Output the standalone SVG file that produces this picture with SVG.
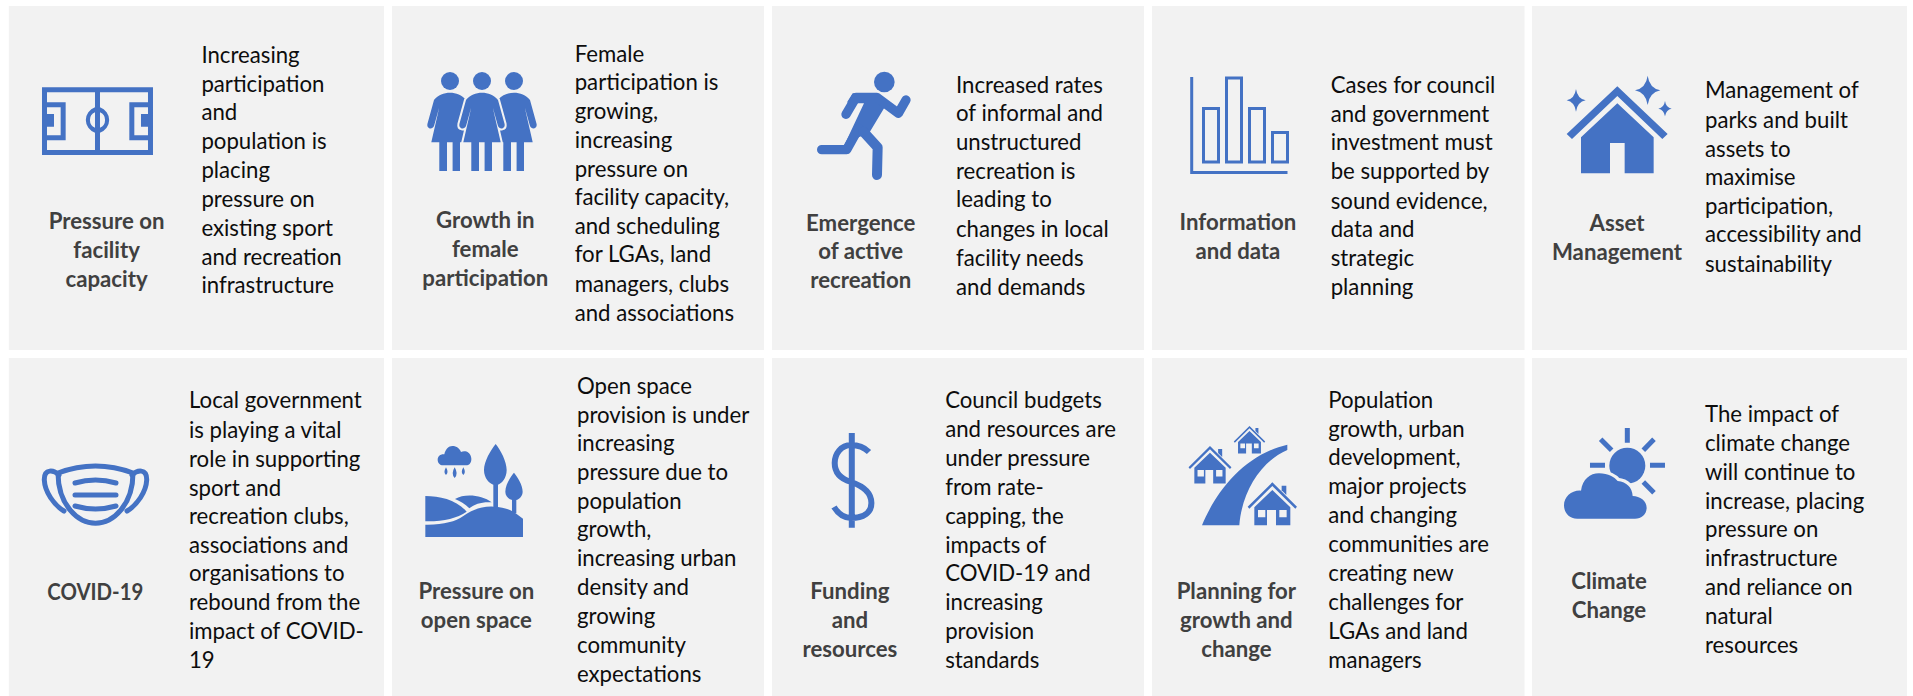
<svg xmlns="http://www.w3.org/2000/svg" width="1913" height="696" viewBox="0 0 1913 696">
<style>
.p{fill:#f2f2f2}
.b{font:22.2px Lato,"Liberation Sans",sans-serif;fill:#0d0d0d}
.l{font:bold 22.2px Lato,"Liberation Sans",sans-serif;fill:#404040;text-anchor:middle}
.i{fill:#4472c4}
.s{fill:none;stroke:#4472c4}
</style>
<defs>
<path id="woman" class="i" d="M-16,100C-12,95 -6,92.7 0,92.7C6,92.7 12,95 16,100L22.6,124C23.5,129 17.5,130 16,126L10.7,107.3L18.7,142.3H10V171H2.6V142.3H-3V171H-10.7V142.3H-18.7L-10.7,107.3L-16,126C-17.5,130 -23.5,129 -22.6,124Z"/>
<g id="home" class="i">
<path d="M0,0L74,73L69,79L0,11L-69,79L-74,73Z"/>
<path d="M28,10H42V38L28,24Z"/>
<path fill-rule="evenodd" d="M0,23L54,75V129H11V83H-16V129H-54V75ZM-43,83V105H-21V83ZM21,83V105H43V83Z"/>
</g>
</defs>
<rect width="1913" height="696" fill="#fff"/>

<g id="node-1">
<rect class="p" x="8.800" y="6" width="375.200" height="344"/>
<g transform="translate(20,60) scale(.3333)" class="i">
<path fill-rule="evenodd" d="M66,82H399V285H66ZM81,97V127H137V241H81V270H225V218A40,40 0 0 1 225,142V97ZM240,97V142A40,40 0 0 1 240,218V270H384V241H328V127H384V97ZM81,142V162H102V200H81V226H122V142ZM343,142V226H384V200H363V162H384V142ZM225,157A25,25 0 0 0 225,203ZM240,157V203A25,25 0 0 0 240,157Z"/>
</g>
<text class="l"><tspan x="106.600" y="229">Pressure on</tspan><tspan x="106.600" y="258">facility</tspan><tspan x="106.600" y="287">capacity</tspan></text>
<text class="b"><tspan x="201.400" y="63">Increasing</tspan><tspan x="201.400" y="92">participation</tspan><tspan x="201.400" y="120">and</tspan><tspan x="201.400" y="149">population is</tspan><tspan x="201.400" y="178">placing</tspan><tspan x="201.400" y="207">pressure on</tspan><tspan x="201.400" y="236">existing sport</tspan><tspan x="201.400" y="265">and recreation</tspan><tspan x="201.400" y="293">infrastructure</tspan></text>
</g>

<g id="node-2">
<rect class="p" x="392" y="6" width="372" height="344"/>
<circle class="i" cx="450" cy="81" r="9"/><circle class="i" cx="482" cy="81" r="9"/><circle class="i" cx="514" cy="81" r="9"/>
<use href="#woman" x="450"/><use href="#woman" x="514"/>
<use href="#woman" x="482" stroke="#f2f2f2" stroke-width="4" paint-order="stroke"/>
<text class="l"><tspan x="485.300" y="228">Growth in</tspan><tspan x="485.300" y="257">female</tspan><tspan x="485.300" y="286">participation</tspan></text>
<text class="b"><tspan x="574.700" y="62">Female</tspan><tspan x="574.700" y="90">participation is</tspan><tspan x="574.700" y="119">growing,</tspan><tspan x="574.700" y="148">increasing</tspan><tspan x="574.700" y="177">pressure on</tspan><tspan x="574.700" y="205">facility capacity,</tspan><tspan x="574.700" y="234">and scheduling</tspan><tspan x="574.700" y="262">for LGAs, land</tspan><tspan x="574.700" y="292">managers, clubs</tspan><tspan x="574.700" y="321">and associations</tspan></text>
</g>

<g id="node-3">
<rect class="p" x="772" y="6" width="372" height="344"/>
<g transform="translate(800,60) scale(.3333)">
<circle class="i" cx="253" cy="66" r="31"/>
<path class="i" d="M158,100H232L258,135L208,218L176,232L130,262L192,130H170L150,150L142,125Z"/>
<path class="s" stroke-width="28" stroke-linecap="round" stroke-linejoin="round" d="M138,163L168,112H230L295,160L318,120"/>
<path class="s" stroke-width="28" stroke-linecap="round" stroke-linejoin="round" d="M65,269H140L176,205"/>
<path class="s" stroke-width="30" stroke-linecap="round" stroke-linejoin="round" d="M190,215L233,262L231,345"/>
</g>
<text class="l"><tspan x="860.700" y="231">Emergence</tspan><tspan x="860.700" y="259">of active</tspan><tspan x="860.700" y="288">recreation</tspan></text>
<text class="b"><tspan x="956" y="93">Increased rates</tspan><tspan x="956" y="121">of informal and</tspan><tspan x="956" y="150">unstructured</tspan><tspan x="956" y="179">recreation is</tspan><tspan x="956" y="207">leading to</tspan><tspan x="956" y="237">changes in local</tspan><tspan x="956" y="266">facility needs</tspan><tspan x="956" y="295">and demands</tspan></text>
</g>

<g id="node-4">
<rect class="p" x="1152" y="6" width="372.500" height="344"/>
<path class="s" stroke-width="3" d="M1191.700,77V172.500H1287.500"/>
<g class="s" stroke-width="3"><rect x="1203.500" y="108.500" width="15" height="53.500"/><rect x="1226.500" y="78" width="15" height="84"/><rect x="1249.500" y="108.500" width="15" height="53.500"/><rect x="1272.500" y="132.500" width="15" height="29.500"/></g>
<text class="l"><tspan x="1237.900" y="230">Information</tspan><tspan x="1237.900" y="259">and data</tspan></text>
<text class="b"><tspan x="1330.700" y="93">Cases for council</tspan><tspan x="1330.700" y="122">and government</tspan><tspan x="1330.700" y="150">investment must</tspan><tspan x="1330.700" y="179">be supported by</tspan><tspan x="1330.700" y="209">sound evidence,</tspan><tspan x="1330.700" y="237">data and</tspan><tspan x="1330.700" y="266">strategic</tspan><tspan x="1330.700" y="295">planning</tspan></text>
</g>

<g id="node-5">
<rect class="p" x="1532" y="6" width="375" height="344"/>
<g transform="translate(1550,60) scale(.3333)" class="i">
<path d="M202,79L353,222L337,237L202,108L66,237L50,222Z"/>
<path d="M202,130L311,232V340H224V249H180V340H93V232Z"/>
<path d="M293,47Q298,84 331,91Q298,98 293,135Q288,98 255,91Q288,84 293,47Z"/>
<path d="M78,87Q82,116 107,121Q82,126 78,155Q74,126 50,121Q74,116 78,87Z"/>
<path d="M345,123Q348,143 365,146Q348,149 345,169Q342,149 325,146Q342,143 345,123Z"/>
</g>
<text class="l"><tspan x="1617" y="231">Asset</tspan><tspan x="1617" y="260">Management</tspan></text>
<text class="b"><tspan x="1705" y="98">Management of</tspan><tspan x="1705" y="128">parks and built</tspan><tspan x="1705" y="157">assets to</tspan><tspan x="1705" y="185">maximise</tspan><tspan x="1705" y="214">participation,</tspan><tspan x="1705" y="242">accessibility and</tspan><tspan x="1705" y="272">sustainability</tspan></text>
</g>

<g id="node-6">
<rect class="p" x="8.800" y="358" width="375.200" height="338"/>
<g class="s" stroke-width="5" stroke-linecap="round">
<path d="M58,473Q95.500,459 133,473C133,505 113,523.200 95.500,523.200C78,523.200 58,505 58,473Z"/>
<path d="M59,475C54,470 44,468 44.300,480C44.800,492 54,505 64,511"/>
<path d="M132,475C137,470 147,468 146.700,480C146.200,492 137,505 127,511"/>
<path d="M75,483Q95.500,477 116,483M75,495H116M75,506Q95.500,512 116,506"/>
</g>
<text class="l" x="95.300" y="600" textLength="96" lengthAdjust="spacingAndGlyphs">COVID-19</text>
<text class="b"><tspan x="189" y="408">Local government</tspan><tspan x="189" y="438">is playing a vital</tspan><tspan x="189" y="467">role in supporting</tspan><tspan x="189" y="496">sport and</tspan><tspan x="189" y="524">recreation clubs,</tspan><tspan x="189" y="553">associations and</tspan><tspan x="189" y="581">organisations to</tspan><tspan x="189" y="610">rebound from the</tspan><tspan x="189" y="639">impact of COVID-</tspan><tspan x="189" y="668">19</tspan></text>
</g>

<g id="node-7">
<rect class="p" x="392" y="358" width="372" height="338"/>
<g transform="translate(410,430) scale(.3333)" class="i">
<path d="M100,106C88,106 83,97 83,89C83,78 93,71 103,73C106,58 116,48 127,48C140,48 150,56 153,66C165,60 180,66 183,80C187,94 180,106 168,106Z"/>
<path d="M108,112Q117,128 108,135Q99,128 108,112ZM134,112Q146,132 134,144Q122,132 134,112ZM160,112Q169,128 160,135Q151,128 160,112Z"/>
<path d="M257,42C272,60 290,95 290,120C290,145 275,160 264,164V232H250V164C238,160 222,145 222,120C222,95 242,60 257,42Z"/>
<path d="M312,128C322,140 338,165 338,185C338,198 328,208 319,210V250H306V210C296,208 286,198 286,185C286,165 302,140 312,128Z"/>
<path d="M46,198C90,198 140,210 170,245C140,265 100,275 46,274Z"/>
<path d="M135,207C165,190 215,195 245,217C215,215 195,222 178,235C165,222 150,213 135,207Z"/>
<path d="M46,284C100,285 135,275 160,258C185,240 215,228 250,230C280,230 305,240 320,252L339,266V321H46Z"/>
</g>
<text class="l"><tspan x="476.400" y="599">Pressure on</tspan><tspan x="476.400" y="628">open space</tspan></text>
<text class="b"><tspan x="577" y="394">Open space</tspan><tspan x="577" y="423">provision is under</tspan><tspan x="577" y="451">increasing</tspan><tspan x="577" y="480">pressure due to</tspan><tspan x="577" y="509">population</tspan><tspan x="577" y="537">growth,</tspan><tspan x="577" y="566">increasing urban</tspan><tspan x="577" y="595">density and</tspan><tspan x="577" y="624">growing</tspan><tspan x="577" y="653">community</tspan><tspan x="577" y="682">expectations</tspan></text>
</g>

<g id="node-8">
<rect class="p" x="772" y="358" width="372" height="338"/>
<path class="s" stroke-width="6" d="M851.800,433V527.700M869,452C863,446 857,445 851,445C841,445 834.700,454 834.700,463C834.700,473 841,479 851,482C863,486 871.400,493 871.400,503C871.400,513 863,518 851,518C845,518 839,515 834,507"/>
<text class="l"><tspan x="849.900" y="599">Funding</tspan><tspan x="849.900" y="628">and</tspan><tspan x="849.900" y="657">resources</tspan></text>
<text class="b"><tspan x="945.200" y="408">Council budgets</tspan><tspan x="945.200" y="437">and resources are</tspan><tspan x="945.200" y="466">under pressure</tspan><tspan x="945.200" y="495">from rate-</tspan><tspan x="945.200" y="524">capping, the</tspan><tspan x="945.200" y="553">impacts of</tspan><tspan x="945.200" y="581">COVID-19 and</tspan><tspan x="945.200" y="610">increasing</tspan><tspan x="945.200" y="639">provision</tspan><tspan x="945.200" y="668">standards</tspan></text>
</g>

<g id="node-9">
<rect class="p" x="1152" y="358" width="372.500" height="338"/>
<g transform="translate(1170,430) scale(.3333)">
<path class="i" d="M96,286C135,190 220,75 352,44V60C270,95 215,190 208,286Z"/>
<use href="#home" transform="translate(307,157)"/>
<use href="#home" transform="translate(120,48) scale(.87)"/>
<use href="#home" transform="translate(238.500,-12) scale(.637)"/>
</g>
<text class="l"><tspan x="1236.400" y="599">Planning for</tspan><tspan x="1236.400" y="628">growth and</tspan><tspan x="1236.400" y="657">change</tspan></text>
<text class="b"><tspan x="1328.300" y="408">Population</tspan><tspan x="1328.300" y="437">growth, urban</tspan><tspan x="1328.300" y="465">development,</tspan><tspan x="1328.300" y="494">major projects</tspan><tspan x="1328.300" y="523">and changing</tspan><tspan x="1328.300" y="552">communities are</tspan><tspan x="1328.300" y="581">creating new</tspan><tspan x="1328.300" y="610">challenges for</tspan><tspan x="1328.300" y="639">LGAs and land</tspan><tspan x="1328.300" y="668">managers</tspan></text>
</g>

<g id="node-10">
<rect class="p" x="1532" y="358" width="375" height="338"/>
<g transform="translate(1500,346) scale(.3333)">
<circle class="i" cx="382" cy="359" r="54"/>
<path class="s" stroke-width="15" d="M382,246V290M302,280L335,313M462,280L430,313M270,358H315M450,358H495M430,408L462,440"/>
<path class="i" stroke="#f2f2f2" stroke-width="20" paint-order="stroke" d="M232,518C205,518 192,498 192,478C192,452 215,432 243,434C248,400 270,382 297,382C325,382 345,395 353,405C380,408 397,425 398,450C420,450 440,465 440,485C440,505 425,518 405,518Z"/>
</g>
<text class="l"><tspan x="1609" y="589">Climate</tspan><tspan x="1609" y="618">Change</tspan></text>
<text class="b"><tspan x="1705" y="422">The impact of</tspan><tspan x="1705" y="451">climate change</tspan><tspan x="1705" y="480">will continue to</tspan><tspan x="1705" y="509">increase, placing</tspan><tspan x="1705" y="537">pressure on</tspan><tspan x="1705" y="566">infrastructure</tspan><tspan x="1705" y="595">and reliance on</tspan><tspan x="1705" y="624">natural</tspan><tspan x="1705" y="653">resources</tspan></text>
</g>
</svg>
